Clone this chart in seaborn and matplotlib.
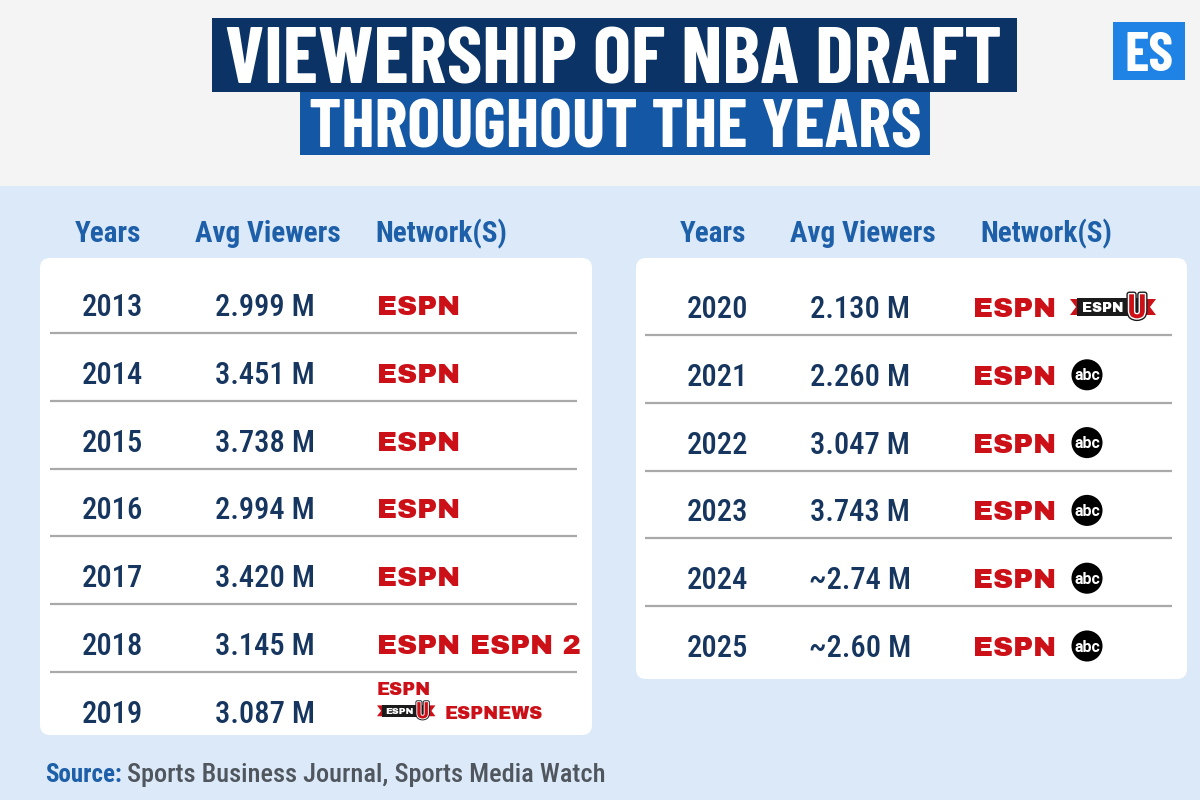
import matplotlib
matplotlib.use("Agg")
import matplotlib.pyplot as plt
import matplotlib.patheffects as pe
from matplotlib.patches import Rectangle, FancyBboxPatch, Polygon
import pandas as pd
import seaborn as sns

# Table content
years_left = ["2013", "2014", "2015", "2016", "2017", "2018", "2019"]
viewers_left = ["2.999 M", "3.451 M", "3.738 M", "2.994 M", "3.420 M", "3.145 M", "3.087 M"]
networks_left = [["ESPN"], ["ESPN"], ["ESPN"], ["ESPN"], ["ESPN"],
                 ["ESPN", "ESPN2"], ["ESPN", "ESPNU", "ESPNEWS"]]

years_right = ["2020", "2021", "2022", "2023", "2024", "2025"]
viewers_right = ["2.130 M", "2.260 M", "3.047 M", "3.743 M", "~2.74 M", "~2.60 M"]
networks_right = [["ESPN", "ESPNU"], ["ESPN", "ABC"], ["ESPN", "ABC"],
                  ["ESPN", "ABC"], ["ESPN", "ABC"], ["ESPN", "ABC"]]

headers = ["Years", "Avg Viewers", "Network(S)"]
title_lines = ["VIEWERSHIP OF NBA DRAFT", "THROUGHOUT THE YEARS"]
badge = "ES"
source_label = "Source:"
source_text = "Sports Business Journal, Sports Media Watch"

sns.set_theme(style="white")
COND = ["Roboto Condensed", "DejaVu Sans"]
TITLE = ["Barlow Condensed", "Roboto Condensed", "DejaVu Sans"]
LOGO = ["Archivo Black", "DejaVu Sans"]
plt.rcParams["font.family"] = COND

NAVY = "#0b3366"
BLUE = "#1457a5"
HEAD = "#1d5fa9"
INK = "#16365f"
RED = "#cc1018"

fig = plt.figure(figsize=(12, 8), dpi=100)
ax = fig.add_axes([0, 0, 1, 1])
ax.set_xlim(0, 1200)
ax.set_ylim(800, 0)
ax.axis("off")

# backgrounds
ax.add_patch(Rectangle((0, 0), 1200, 186, fc="#f4f4f4", ec="none", zorder=0))
ax.add_patch(Rectangle((0, 186), 1200, 614, fc="#dce9f8", ec="none", zorder=0))

# title
ax.add_patch(Rectangle((212, 18), 805, 74, fc=NAVY, ec="none", zorder=1))
ax.add_patch(Rectangle((300, 92), 630, 63, fc=BLUE, ec="none", zorder=1))
ax.text(613, 83, title_lines[0], ha="center", va="baseline", color="white",
        fontsize=58, family=TITLE, weight="bold", zorder=2)
ax.text(615, 148, title_lines[1], ha="center", va="baseline", color="white",
        fontsize=50, family=TITLE, weight="bold", zorder=2)
ax.add_patch(Rectangle((1113, 22), 72, 58, fc="#1f83e6", ec="none", zorder=1))
ax.text(1149, 71, badge, ha="center", va="baseline", color="white",
        fontsize=40, family=TITLE, weight="bold", zorder=2)


def espn(x, y, size=20):
    ax.text(x, y + size * 0.5, "ESPN", ha="left", va="baseline", color=RED,
            fontsize=size, family=LOGO, weight="heavy", zorder=4)


def espnu(x, y, k=1.0):
    w, h = 86 * k, 8 * k
    ax.add_patch(Polygon([(x, y - h), (x + w, y - h), (x + w - 6 * k, y), (x + w, y + h),
                          (x, y + h), (x + 6 * k, y)], closed=True, fc=RED, ec="none", zorder=3))
    ax.add_patch(Rectangle((x + 7 * k, y - 9 * k), 62 * k, 18 * k, fc="#1b1b1b", ec="none", zorder=3))
    ax.text(x + 12 * k, y + 5 * k, "ESPN", ha="left", va="baseline", color="white",
            fontsize=10 * k, family=LOGO, weight="heavy", zorder=4)
    ax.text(x + 67 * k, y + 11 * k, "U", ha="center", va="baseline", color=RED,
            fontsize=24 * k, family=COND, weight="heavy", zorder=5,
            path_effects=[pe.withStroke(linewidth=4 * k, foreground="#1b1b1b"),
                          pe.withStroke(linewidth=2 * k, foreground="white")])


def draw_table(x0, xs, ys, years, viewers, networks, net_x):
    for name, xc in zip(headers, xs):
        ax.text(xc, 242, name, ha="center", va="baseline", color=HEAD,
                fontsize=21, weight="bold", zorder=4)
    abc = []
    for i, (yr, vw, nets) in enumerate(zip(years, viewers, networks)):
        y = ys[i]
        ax.text(xs[0] + 4, y + 11, yr, ha="center", va="baseline", color=INK,
                fontsize=22, weight="medium", zorder=4)
        ax.text(xs[1] - 3, y + 11, vw, ha="center", va="baseline", color=INK,
                fontsize=22, weight="medium", zorder=4)
        if len(nets) == 3:
            espn(net_x, y - 23, size=13)
            espnu(net_x, y - 1, k=0.68)
            ax.text(net_x + 68, y + 7, "ESPNEWS", ha="left", va="baseline", color=RED,
                    fontsize=13, family=LOGO, weight="heavy", zorder=4)
            continue
        espn(net_x, y)
        if len(nets) > 1:
            if nets[1] == "ESPN2":
                ax.text(net_x + 93, y + 10, "ESPN 2", ha="left", va="baseline", color=RED,
                        fontsize=20, family=LOGO, weight="heavy", zorder=4)
            elif nets[1] == "ESPNU":
                espnu(net_x + 97, y)
            elif nets[1] == "ABC":
                abc.append((net_x + 114, y))
        if i < len(years) - 1:
            ax.hlines(y + 28, x0 + 10, x0 + 537, color="#a9a9a9", lw=1.6, zorder=3)
    if abc:
        df = pd.DataFrame(abc, columns=["x", "y"])
        sns.scatterplot(data=df, x="x", y="y", s=500, color="black", edgecolor="none",
                        ax=ax, zorder=5, legend=False)
        for xa, ya in abc:
            ax.text(xa, ya + 1, "abc", ha="center", va="center", color="white",
                    fontsize=11.5, family=["Roboto", "DejaVu Sans"], weight="bold", zorder=6)


# cards
ax.add_patch(FancyBboxPatch((40, 258), 552, 477, boxstyle="round,pad=0,rounding_size=10",
                            fc="white", ec="none", zorder=2))
ax.add_patch(FancyBboxPatch((636, 258), 551, 421, boxstyle="round,pad=0,rounding_size=10",
                            fc="white", ec="none", zorder=2))

rows_left = [305 + 67.8 * i for i in range(len(years_left))]
rows_right = [307 + 67.8 * i for i in range(len(years_right))]
draw_table(40, [108, 268, 441], rows_left, years_left, viewers_left, networks_left, 377)
draw_table(635, [713, 863, 1046], rows_right, years_right, viewers_right, networks_right, 973)
ax.set_xlim(0, 1200)
ax.set_ylim(800, 0)
ax.set_xlabel("")
ax.set_ylabel("")

# source line
t1 = ax.text(45, 782, source_label, ha="left", va="baseline", color=HEAD,
             fontsize=18, weight="bold", zorder=4)
ax.annotate(source_text, xy=(1, 0), xycoords=t1, xytext=(4, 0), textcoords="offset points",
            ha="left", va="bottom", color="#50565e", fontsize=19, weight="medium", zorder=4)

fig.savefig("out.png", dpi=100)
